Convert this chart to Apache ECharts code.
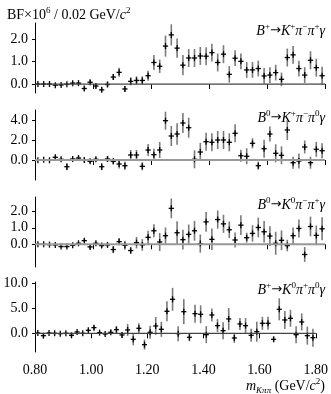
<!DOCTYPE html>
<html>
<head>
<meta charset="utf-8">
<script src="https://cdn.jsdelivr.net/npm/echarts@6/dist/echarts.min.js"></script>
<style>
  html, body { margin: 0; padding: 0; background: #fff; }
  #main { width: 331px; height: 394px; }
</style>
</head>
<body>
<div id="main"></div>
<script>
// bin centres, m(K pi pi) in GeV/c^2
var mass = [0.81,0.83,0.85,0.87,0.89,0.91,0.93,0.95,0.97,0.99,
            1.01,1.03,1.05,1.07,1.09,1.11,1.13,1.15,1.17,1.19,
            1.21,1.23,1.25,1.27,1.29,1.31,1.33,1.35,1.37,1.39,
            1.41,1.43,1.45,1.47,1.49,1.51,1.53,1.55,1.57,1.59,
            1.61,1.63,1.65,1.67,1.69,1.71,1.73,1.75,1.77,1.79];

// B+ -> K+ pi- pi+ gamma
var bfKpPimPip = [0.00,0.00,0.00,-0.05,-0.04,-0.01,0.04,0.04,-0.20,0.08,
                  -0.09,-0.26,-0.02,0.31,0.52,-0.22,0.12,0.16,0.16,0.37,
                  0.96,0.79,1.69,2.19,1.60,0.84,1.16,1.16,1.25,1.24,
                  1.40,0.96,1.33,0.43,1.15,1.01,0.63,0.63,0.69,0.36,
                  0.40,0.51,0.21,1.18,1.30,0.69,0.40,1.06,0.73,0.37];
var errKpPimPip = [0.03,0.03,0.03,0.03,0.03,0.03,0.05,0.05,0.10,0.10,
                   0.10,0.10,0.12,0.13,0.20,0.12,0.18,0.18,0.18,0.22,
                   0.33,0.30,0.47,0.47,0.43,0.45,0.40,0.40,0.40,0.40,
                   0.40,0.40,0.40,0.37,0.35,0.35,0.35,0.35,0.35,0.35,
                   0.35,0.35,0.30,0.40,0.40,0.35,0.35,0.40,0.40,0.40];
var ticksKpPimPip = [0, 1, 2];

// B0 -> K+ pi- pi0 gamma
var bfKpPimPi0 = [-0.03,0.03,-0.03,0.27,0.07,-0.67,0.10,0.20,0.00,-0.13,
                  0.07,-0.67,0.10,-0.13,-0.40,-0.57,0.50,0.50,-0.63,1.00,
                  0.53,1.00,3.93,2.40,2.60,3.70,3.23,0.07,0.80,1.83,
                  1.77,2.00,2.00,1.77,2.67,0.43,0.37,1.67,-0.57,1.13,
                  2.60,0.67,0.47,3.00,-0.27,-0.10,1.30,-0.27,1.07,0.93];
var errKpPimPi0 = [0.10,0.10,0.10,0.15,0.10,0.35,0.10,0.15,0.20,0.20,
                   0.20,0.35,0.30,0.30,0.45,0.40,0.50,0.50,0.40,0.60,
                   0.60,0.80,0.90,1.00,1.07,1.00,1.00,0.90,0.90,0.90,
                   0.90,0.90,0.90,0.90,0.90,0.60,0.80,0.50,0.40,0.90,
                   0.75,0.90,0.90,1.00,0.60,0.75,0.65,0.60,0.75,0.75];
var ticksKpPimPi0 = [0, 2, 4];

// B0 -> K0 pi- pi+ gamma
var bfK0PimPip = [0.00,0.00,-0.02,-0.04,-0.14,-0.14,-0.06,0.06,0.22,-0.16,
                  0.06,-0.08,-0.04,-0.32,0.16,-0.06,-0.38,0.10,-0.04,0.42,
                  0.82,0.14,0.52,2.18,0.70,0.28,0.60,0.82,0.04,1.36,
                  0.30,1.50,1.24,0.88,0.26,1.16,0.40,0.66,1.02,0.76,
                  0.50,0.06,0.24,-0.08,0.52,0.96,-0.62,1.08,0.54,0.94];
var errK0PimPip = [0.04,0.04,0.04,0.04,0.05,0.05,0.05,0.05,0.10,0.12,
                   0.10,0.10,0.12,0.22,0.22,0.28,0.20,0.35,0.35,0.40,
                   0.40,0.55,0.50,0.60,0.70,0.60,0.60,0.60,0.55,0.60,
                   0.65,0.55,0.55,0.50,0.45,0.60,0.30,0.50,0.60,0.65,
                   0.60,0.70,0.60,0.35,0.50,0.55,0.45,0.60,0.60,0.70];
var ticksK0PimPip = [0, 1, 2];

// B+ -> K0 pi+ pi0 gamma
var bfK0PipPi0 = [0.07,-0.47,0.07,0.00,-0.07,0.00,-0.40,0.27,0.00,0.60,
                  1.13,0.13,-0.13,0.20,0.73,-0.33,0.67,-1.20,1.00,-2.27,
                  0.20,1.47,0.80,4.40,6.80,-0.07,4.33,-0.80,3.93,3.80,
                  -0.27,3.67,1.53,0.53,2.87,-0.93,1.87,1.53,-0.40,0.33,
                  2.00,2.00,-1.20,4.80,2.67,3.00,-0.27,2.27,-0.47,-0.87];
var errK0PipPi0 = [0.2,0.5,0.2,0.2,0.2,0.2,0.3,0.2,0.2,0.3,
                   0.5,0.3,0.3,0.4,0.7,0.6,1.2,1.2,1.0,1.0,
                   1.3,1.8,1.5,2.0,2.3,1.5,2.5,0.8,1.8,1.8,
                   1.7,1.3,1.3,1.7,2.2,1.0,1.2,1.5,1.3,2.0,
                   1.3,1.3,0.5,2.2,1.8,1.7,1.7,1.7,1.8,1.8];
var ticksK0PipPi0 = [0, 5, 10];

var FONT = 'Liberation Serif';

var panels = [
  { vals: bfKpPimPip, errs: errKpPimPip, ticks: ticksKpPimPip, min: -0.4, max: 2.72, top: 23,
    zero: '#444', zeroW: 1.2,
    label: '{i|B}{s|+}{a|→}{i|K}{s|+}{i|π}{s|−}{i|π}{s|+}{i|γ}' },
  { vals: bfKpPimPi0, errs: errKpPimPi0, ticks: ticksKpPimPi0, min: -2, max: 5, top: 110,
    zero: '#999', zeroW: 2,
    label: '{i|B}{s|0}{a|→}{i|K}{s|+}{i|π}{s|−}{i|π}{s|0}{i|γ}' },
  { vals: bfK0PimPip, errs: errK0PimPip, ticks: ticksK0PimPip, min: -1.38, max: 2.87, top: 197,
    zero: '#999', zeroW: 2,
    label: '{i|B}{s|0}{a|→}{i|K}{s|0}{i|π}{s|−}{i|π}{s|+}{i|γ}' },
  { vals: bfK0PipPi0, errs: errK0PipPi0, ticks: ticksK0PipPi0, min: -3.74, max: 10.26, top: 282,
    zero: '#444', zeroW: 1.2,
    label: '{i|B}{s|+}{a|→}{i|K}{s|0}{i|π}{s|+}{i|π}{s|0}{i|γ}' }
];

var richLabel = {
  i: { fontFamily: FONT, fontStyle: 'italic', fontSize: 14, lineHeight: 18, color: '#000' },
  n: { fontFamily: FONT, fontSize: 14, lineHeight: 18, color: '#000' },
  a: { fontFamily: 'DejaVu Sans', fontSize: 13, lineHeight: 18, color: '#000' },
  s: { fontFamily: FONT, fontSize: 9, lineHeight: 9, verticalAlign: 'top', color: '#000' },
  b: { fontFamily: FONT, fontStyle: 'italic', fontSize: 9, lineHeight: 9, verticalAlign: 'bottom', color: '#000' }
};

function renderErr(params, api) {
  var x = api.value(0), y = api.value(1), e = api.value(2);
  var c = api.coord([x, y]);
  var lo = api.coord([x, y - e]);
  var hi = api.coord([x, y + e]);
  var l = api.coord([x - 0.009, y]);
  var r = api.coord([x + 0.009, y]);
  return {
    type: 'group',
    children: [
      { type: 'line', shape: { x1: c[0], y1: lo[1], x2: c[0], y2: hi[1] },
        style: { stroke: '#7a7a7a', lineWidth: 1.6 } },
      { type: 'line', shape: { x1: l[0], y1: c[1], x2: r[0], y2: c[1] },
        style: { stroke: '#000', lineWidth: 1.3 } },
      { type: 'line', shape: { x1: c[0], y1: c[1] - 3, x2: c[0], y2: c[1] + 3 },
        style: { stroke: '#000', lineWidth: 1.3 } }
    ]
  };
}

var grid = [], xAxis = [], yAxis = [], series = [], graphic = [];

panels.forEach(function (p, k) {
  var last = k === panels.length - 1;
  grid.push({ left: 35, right: 6, top: p.top, height: 70 });
  xAxis.push({
    type: 'value', gridIndex: k, min: 0.8, max: 1.8, interval: 0.2, offset: 3,
    axisLine: { show: false },
    axisTick: { show: true, length: 5, lineStyle: { color: '#000', width: 1 } },
    axisLabel: { show: last, margin: 8, fontFamily: FONT, fontSize: 14, color: '#000',
                 formatter: function (v) { return v.toFixed(2); } },
    splitLine: { show: false }
  });
  yAxis.push({
    type: 'value', gridIndex: k, min: p.min, max: p.max,
    axisLine: { show: true, onZero: false, lineStyle: { color: '#000', width: 1 } },
    axisTick: { show: true, length: 3, customValues: p.ticks, lineStyle: { color: '#000' } },
    axisLabel: { margin: 7, fontFamily: FONT, fontSize: 14, color: '#000', customValues: p.ticks,
                 formatter: function (v) { return v.toFixed(1); } },
    splitLine: { show: false }
  });
  series.push({
    type: 'line', xAxisIndex: k, yAxisIndex: k, symbol: 'none', silent: true,
    data: [[0.8, 0], [1.8, 0]],
    lineStyle: { color: p.zero, width: p.zeroW }
  });
  series.push({
    type: 'custom', xAxisIndex: k, yAxisIndex: k, renderItem: renderErr,
    encode: { x: 0, y: 1 },
    data: mass.map(function (m, i) { return [m, p.vals[i], p.errs[i]]; })
  });
  graphic.push({
    type: 'text', right: 6, top: p.top - 1,
    style: { text: p.label, rich: richLabel }
  });
});

graphic.push({
  type: 'text', right: 6, top: 377,
  style: { text: '{i|m}{b|Kππ}{n| (GeV/}{i|c}{s|2}{n|)}', rich: richLabel }
});

var myChart = echarts.init(document.getElementById('main'));
var option = {
  animation: false,
  backgroundColor: '#fff',
  title: {
    left: 2, top: 1,
    text: '{n|BF×10}{s|6}{n| / 0.02 GeV/}{i|c}{s|2}',
    textStyle: { fontWeight: 'normal', rich: {
      n: { fontFamily: FONT, fontWeight: 'normal', fontSize: 14, lineHeight: 18, color: '#000' },
      i: { fontFamily: FONT, fontWeight: 'normal', fontStyle: 'italic', fontSize: 14, lineHeight: 18, color: '#000' },
      s: { fontFamily: FONT, fontWeight: 'normal', fontSize: 9, lineHeight: 9, verticalAlign: 'top', color: '#000' }
    } }
  },
  grid: grid,
  xAxis: xAxis,
  yAxis: yAxis,
  series: series,
  graphic: graphic
};
option && myChart.setOption(option);
</script>
</body>
</html>
